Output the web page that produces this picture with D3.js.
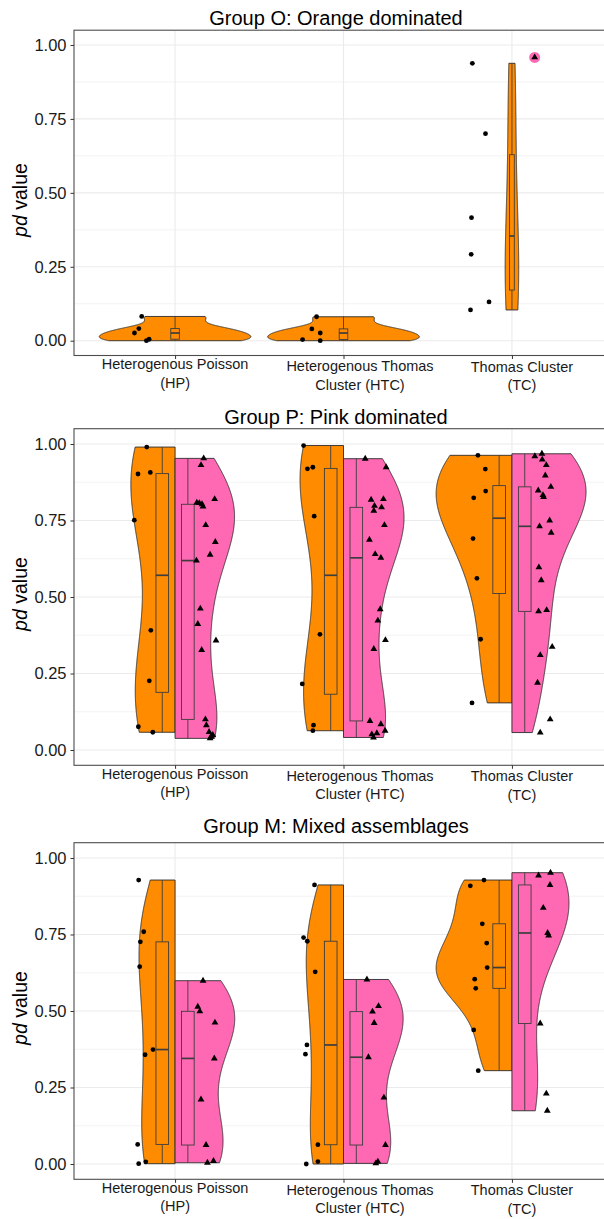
<!DOCTYPE html>
<html>
<head>
<meta charset="utf-8">
<script src="https://cdn.jsdelivr.net/npm/d3@7"></script>
<style>
  body { margin: 0; background: #fff; }
  svg { display: block; font-family: "Liberation Sans", Arial, sans-serif; }
</style>
</head>
<body>
<svg id="chart" width="604" height="1219"></svg>
<script>
// categories and labels
const categories = ["HP", "HTC", "TC"];
const catLabels = [["Heterogenous Poisson", "(HP)"], ["Heterogenous Thomas", "Cluster (HTC)"], ["Thomas Cluster", "(TC)"]];
const panelTitles = ["Group O: Orange dominated", "Group P: Pink dominated", "Group M: Mixed assemblages"];
const yTicks = [0, 0.25, 0.5, 0.75, 1];
const yMinor = [0.125, 0.375, 0.625, 0.875];

// Group O (orange only, plus one pink point at TC)
const O_HP_or = [0.082, 0.041, 0.026, 0.000, 0.005];
const O_HP_or_jit = [-0.198, -0.215, -0.241, -0.170, -0.154];
const O_HTC_or = [0.081, 0.040, 0.026, 0.004, 0.000];
const O_HTC_or_jit = [-0.160, -0.188, -0.138, -0.243, -0.138];
const O_TC_or = [0.938, 0.700, 0.416, 0.292, 0.131, 0.104];
const O_TC_or_jit = [-0.235, -0.157, -0.240, -0.242, -0.136, -0.246];
const O_TC_pk = [0.958];
const O_TC_pk_jit = [0.135];

// Group P
const P_HP_or = [0.990, 0.902, 0.907, 0.751, 0.391, 0.226, 0.076, 0.058];
const P_HP_or_jit = [-0.168, -0.220, -0.147, -0.242, -0.144, -0.153, -0.218, -0.132];
const P_HP_pk = [0.953, 0.931, 0.820, 0.808, 0.803, 0.796, 0.807, 0.735, 0.680, 0.638, 0.619, 0.462, 0.412, 0.358, 0.327, 0.100, 0.081, 0.059, 0.049, 0.044, 0.038];
const P_HP_pk_jit = [0.170, 0.154, 0.235, 0.129, 0.160, 0.166, 0.144, 0.182, 0.239, 0.208, 0.127, 0.150, 0.135, 0.243, 0.158, 0.180, 0.186, 0.202, 0.224, 0.214, 0.208];
const P_HTC_or = [0.995, 0.919, 0.924, 0.764, 0.378, 0.216, 0.081, 0.063];
const P_HTC_or_jit = [-0.237, -0.214, -0.182, -0.174, -0.140, -0.245, -0.178, -0.182];
const P_HTC_pk = [0.952, 0.924, 0.818, 0.820, 0.798, 0.793, 0.782, 0.735, 0.687, 0.640, 0.628, 0.460, 0.423, 0.359, 0.330, 0.095, 0.084, 0.063, 0.055, 0.051, 0.041];
const P_HTC_pk_jit = [0.129, 0.253, 0.164, 0.237, 0.184, 0.226, 0.180, 0.243, 0.154, 0.188, 0.222, 0.218, 0.204, 0.249, 0.180, 0.157, 0.222, 0.247, 0.198, 0.168, 0.178];
const P_TC_or = [0.963, 0.918, 0.846, 0.824, 0.691, 0.561, 0.362, 0.154];
const P_TC_or_jit = [-0.202, -0.158, -0.156, -0.227, -0.231, -0.208, -0.186, -0.237];
const P_TC_pk = [0.968, 0.960, 0.949, 0.931, 0.897, 0.860, 0.848, 0.833, 0.827, 0.750, 0.731, 0.710, 0.597, 0.555, 0.453, 0.457, 0.337, 0.310, 0.220, 0.100, 0.057];
const P_TC_pk_jit = [0.178, 0.136, 0.180, 0.204, 0.198, 0.231, 0.156, 0.184, 0.188, 0.224, 0.164, 0.233, 0.160, 0.174, 0.158, 0.206, 0.239, 0.168, 0.152, 0.227, 0.168];

// Group M
const M_HP_or = [0.928, 0.759, 0.726, 0.645, 0.374, 0.357, 0.064, 0.001, 0.007];
const M_HP_or_jit = [-0.216, -0.186, -0.206, -0.210, -0.131, -0.178, -0.222, -0.216, -0.174];
const M_HP_pk = [0.599, 0.514, 0.499, 0.462, 0.345, 0.211, 0.062, 0.010, 0.004];
const M_HP_pk_jit = [0.166, 0.135, 0.147, 0.237, 0.233, 0.154, 0.184, 0.228, 0.192];
const M_HTC_or = [0.912, 0.740, 0.728, 0.628, 0.389, 0.359, 0.063, 0.000, 0.008];
const M_HTC_or_jit = [-0.172, -0.237, -0.215, -0.168, -0.217, -0.226, -0.152, -0.221, -0.152];
const M_HTC_pk = [0.603, 0.516, 0.498, 0.461, 0.349, 0.217, 0.062, 0.008, 0.002];
const M_HTC_pk_jit = [0.139, 0.208, 0.172, 0.182, 0.148, 0.240, 0.249, 0.204, 0.192];
const M_TC_or = [0.928, 0.909, 0.785, 0.722, 0.642, 0.604, 0.574, 0.438, 0.305];
const M_TC_or_jit = [-0.166, -0.247, -0.176, -0.150, -0.147, -0.221, -0.215, -0.227, -0.200];
const M_TC_pk = [0.952, 0.943, 0.912, 0.837, 0.755, 0.747, 0.459, 0.230, 0.174];
const M_TC_pk_jit = [0.229, 0.158, 0.226, 0.186, 0.212, 0.218, 0.168, 0.204, 0.210];

const ORANGE = "#FF8C00", PINK = "#FF69B4", LINE = "#2b2b2b";

// layout of the three stacked plots
const panels = [
  { title: panelTitles[0], top: 30.2, bottom: 355.5, titleY: 24.7, yTitleC: 200, split: false,
    orange: [[O_HP_or, O_HP_or_jit], [O_HTC_or, O_HTC_or_jit], [O_TC_or, O_TC_or_jit]],
    pink: [null, null, [O_TC_pk, O_TC_pk_jit]], boxW: [0.051, 0.051, 0.028] },
  { title: panelTitles[1], top: 428.7, bottom: 765.3, titleY: 424, yTitleC: 594, split: true,
    orange: [[P_HP_or, P_HP_or_jit], [P_HTC_or, P_HTC_or_jit], [P_TC_or, P_TC_or_jit]],
    pink: [[P_HP_pk, P_HP_pk_jit], [P_HTC_pk, P_HTC_pk_jit], [P_TC_pk, P_TC_pk_jit]] },
  { title: panelTitles[2], top: 842.7, bottom: 1179.3, titleY: 833.3, yTitleC: 1008, split: true,
    orange: [[M_HP_or, M_HP_or_jit], [M_HTC_or, M_HTC_or_jit], [M_TC_or, M_TC_or_jit]],
    pink: [[M_HP_pk, M_HP_pk_jit], [M_HTC_pk, M_HTC_pk_jit], [M_TC_pk, M_TC_pk_jit]] }
];

const svg = d3.select("#chart");
const x = d3.scaleLinear().domain([0.4, 3.6]).range([74, 613]);
const unit = x(1) - x(0);
const labelShift = [0, 16.5, 10];
const labelDy = [-2, 0, 0.5];

// R's bw.nrd0 + gaussian kernel density, trimmed to data range
function bwNrd0(v) {
  const s = d3.deviation(v);
  const iqr = d3.quantile(v, 0.75) - d3.quantile(v, 0.25);
  let lo = Math.min(s, iqr / 1.34);
  if (!(lo > 0)) lo = s || 1;
  return 0.9 * lo * Math.pow(v.length, -0.2);
}
function kde(v) {
  const bw = bwNrd0(v), lo = d3.min(v), hi = d3.max(v);
  return d3.range(512).map(i => {
    const t = lo + (hi - lo) * i / 511;
    const d = d3.sum(v, xi => Math.exp(-0.5 * ((t - xi) / bw) ** 2)) / (v.length * bw * Math.sqrt(2 * Math.PI));
    return [t, d];
  });
}
function boxStats(v) {
  const s = v.slice().sort(d3.ascending);
  const q1 = d3.quantileSorted(s, 0.25), q2 = d3.quantileSorted(s, 0.5), q3 = d3.quantileSorted(s, 0.75);
  const iqr = q3 - q1;
  const lo = d3.min(s.filter(d => d >= q1 - 1.5 * iqr));
  const hi = d3.max(s.filter(d => d <= q3 + 1.5 * iqr));
  return { q1, q2, q3, lo, hi };
}

panels.forEach(p => {
  const y = d3.scaleLinear().domain([-0.05, 1.05]).range([p.bottom, p.top]);
  const g = svg.append("g");

  // grid
  g.selectAll(".minor").data(yMinor).join("line")
    .attr("x1", x(0.4)).attr("x2", x(3.6)).attr("y1", d => y(d)).attr("y2", d => y(d))
    .attr("stroke", "#EBEBEB").attr("stroke-width", 0.6);
  g.selectAll(".major").data(yTicks).join("line")
    .attr("x1", x(0.4)).attr("x2", x(3.6)).attr("y1", d => y(d)).attr("y2", d => y(d))
    .attr("stroke", "#EBEBEB").attr("stroke-width", 1.1);
  g.selectAll(".vgrid").data([1, 2, 3]).join("line")
    .attr("x1", d => x(d)).attr("x2", d => x(d)).attr("y1", p.top).attr("y2", p.bottom)
    .attr("stroke", "#EBEBEB").attr("stroke-width", 1.1);

  // densities for the whole panel (scale = "area")
  const dens = [];
  categories.forEach((c, i) => {
    dens.push(p.orange[i] ? kde(p.orange[i][0]) : null);
    dens.push(p.pink[i] && p.pink[i][0].length > 1 ? kde(p.pink[i][0]) : null);
  });
  const maxD = d3.max(dens.filter(Boolean), d => d3.max(d, e => e[1]));
  const halfW = 0.45 * unit;

  categories.forEach((c, i) => {
    const cx = x(i + 1);
    const dO = dens[2 * i], dP = dens[2 * i + 1];
    if (dO) {
      let pts;
      if (p.split) {
        pts = [[cx, y(dO[0][0])], ...dO.map(e => [cx - halfW * e[1] / maxD, y(e[0])]), [cx, y(dO[dO.length - 1][0])]];
      } else {
        pts = [...dO.map(e => [cx - halfW * e[1] / maxD, y(e[0])]), ...dO.slice().reverse().map(e => [cx + halfW * e[1] / maxD, y(e[0])])];
      }
      g.append("path").attr("d", d3.line()(pts) + "Z")
        .attr("fill", ORANGE).attr("stroke", LINE).attr("stroke-width", 0.9);
    }
    if (dP) {
      const pts = [[cx, y(dP[0][0])], ...dP.map(e => [cx + halfW * e[1] / maxD, y(e[0])]), [cx, y(dP[dP.length - 1][0])]];
      g.append("path").attr("d", d3.line()(pts) + "Z")
        .attr("fill", PINK).attr("stroke", LINE).attr("stroke-width", 0.9);
    }
  });

  // boxplots
  categories.forEach((c, i) => {
    const groups = [];
    if (p.orange[i]) groups.push({ v: p.orange[i][0], fill: ORANGE, off: p.split ? -0.076 : 0, w: p.split ? 0.075 : p.boxW[i] });
    if (p.split && p.pink[i]) groups.push({ v: p.pink[i][0], fill: PINK, off: 0.076, w: 0.075 });
    groups.forEach(gr => {
      const b = boxStats(gr.v);
      const bx = x(i + 1 + gr.off), bw = gr.w * unit;
      g.append("line").attr("x1", bx).attr("x2", bx).attr("y1", y(b.hi)).attr("y2", y(b.q3))
        .attr("stroke", "#3d3d3d").attr("stroke-width", 0.9);
      g.append("line").attr("x1", bx).attr("x2", bx).attr("y1", y(b.q1)).attr("y2", y(b.lo))
        .attr("stroke", "#3d3d3d").attr("stroke-width", 0.9);
      g.append("rect").attr("x", bx - bw / 2).attr("width", bw)
        .attr("y", y(b.q3)).attr("height", Math.max(0.5, y(b.q1) - y(b.q3)))
        .attr("fill", gr.fill).attr("stroke", "#3d3d3d").attr("stroke-width", 0.9);
      g.append("line").attr("x1", bx - bw / 2).attr("x2", bx + bw / 2).attr("y1", y(b.q2)).attr("y2", y(b.q2))
        .attr("stroke", "#3d3d3d").attr("stroke-width", 1.7);
    });
  });

  // jittered points
  categories.forEach((c, i) => {
    if (p.orange[i]) {
      const [v, j] = p.orange[i];
      g.selectAll(null).data(v).join("circle")
        .attr("cx", (d, k) => x(i + 1 + j[k])).attr("cy", d => y(d)).attr("r", 2.4).attr("fill", "#000");
    }
    if (p.pink[i]) {
      const [v, j] = p.pink[i];
      if (!p.split) {
        g.selectAll(null).data(v).join("circle")
          .attr("cx", (d, k) => x(i + 1 + j[k])).attr("cy", d => y(d)).attr("r", 5.5).attr("fill", PINK);
      }
      g.selectAll(null).data(v).join("path")
        .attr("d", d3.symbol(d3.symbolTriangle, 20))
        .attr("transform", (d, k) => `translate(${x(i + 1 + j[k])},${y(d)})`).attr("fill", "#000");
    }
  });

  // panel border
  g.append("rect").attr("x", x(0.4)).attr("y", p.top).attr("width", x(3.6) - x(0.4)).attr("height", p.bottom - p.top)
    .attr("fill", "none").attr("stroke", "#4d4d4d").attr("stroke-width", 1.1);

  // y axis
  const ya = g.append("g").attr("transform", `translate(${x(0.4)},0)`)
    .call(d3.axisLeft(y).tickValues(yTicks).tickFormat(d3.format(".2f")).tickSize(3.5).tickPadding(4));
  ya.select(".domain").remove();
  ya.selectAll("line").attr("stroke", "#333");
  ya.selectAll("text").attr("font-size", "16.5px").attr("fill", "#1a1a1a").attr("font-family", "Liberation Sans, Arial, sans-serif");

  // x axis ticks
  const xa = g.append("g").attr("transform", `translate(0,${p.bottom})`)
    .call(d3.axisBottom(x).tickValues([1, 2, 3]).tickFormat("").tickSize(3.5));
  xa.select(".domain").remove();
  xa.selectAll("line").attr("stroke", "#333");

  // x labels
  catLabels.forEach((lines, i) => {
    lines.forEach((t, li) => {
      g.append("text").attr("x", x(i + 1) + labelShift[i]).attr("y", p.bottom + 15.5 + li * 18.6 + labelDy[i])
        .attr("text-anchor", "middle").attr("font-size", "14.5px").attr("fill", "#1a1a1a").text(t);
    });
  });

  // title
  g.append("text").attr("x", 336).attr("y", p.titleY).attr("text-anchor", "middle")
    .attr("font-size", "20px").attr("fill", "#000").text(p.title);

  // y title
  const yt = g.append("text").attr("transform", `translate(27,${p.yTitleC}) rotate(-90)`)
    .attr("text-anchor", "middle").attr("font-size", "19.5px").attr("fill", "#000");
  yt.append("tspan").attr("font-style", "italic").text("pd");
  yt.append("tspan").text(" value");
});
</script>
</body>
</html>
